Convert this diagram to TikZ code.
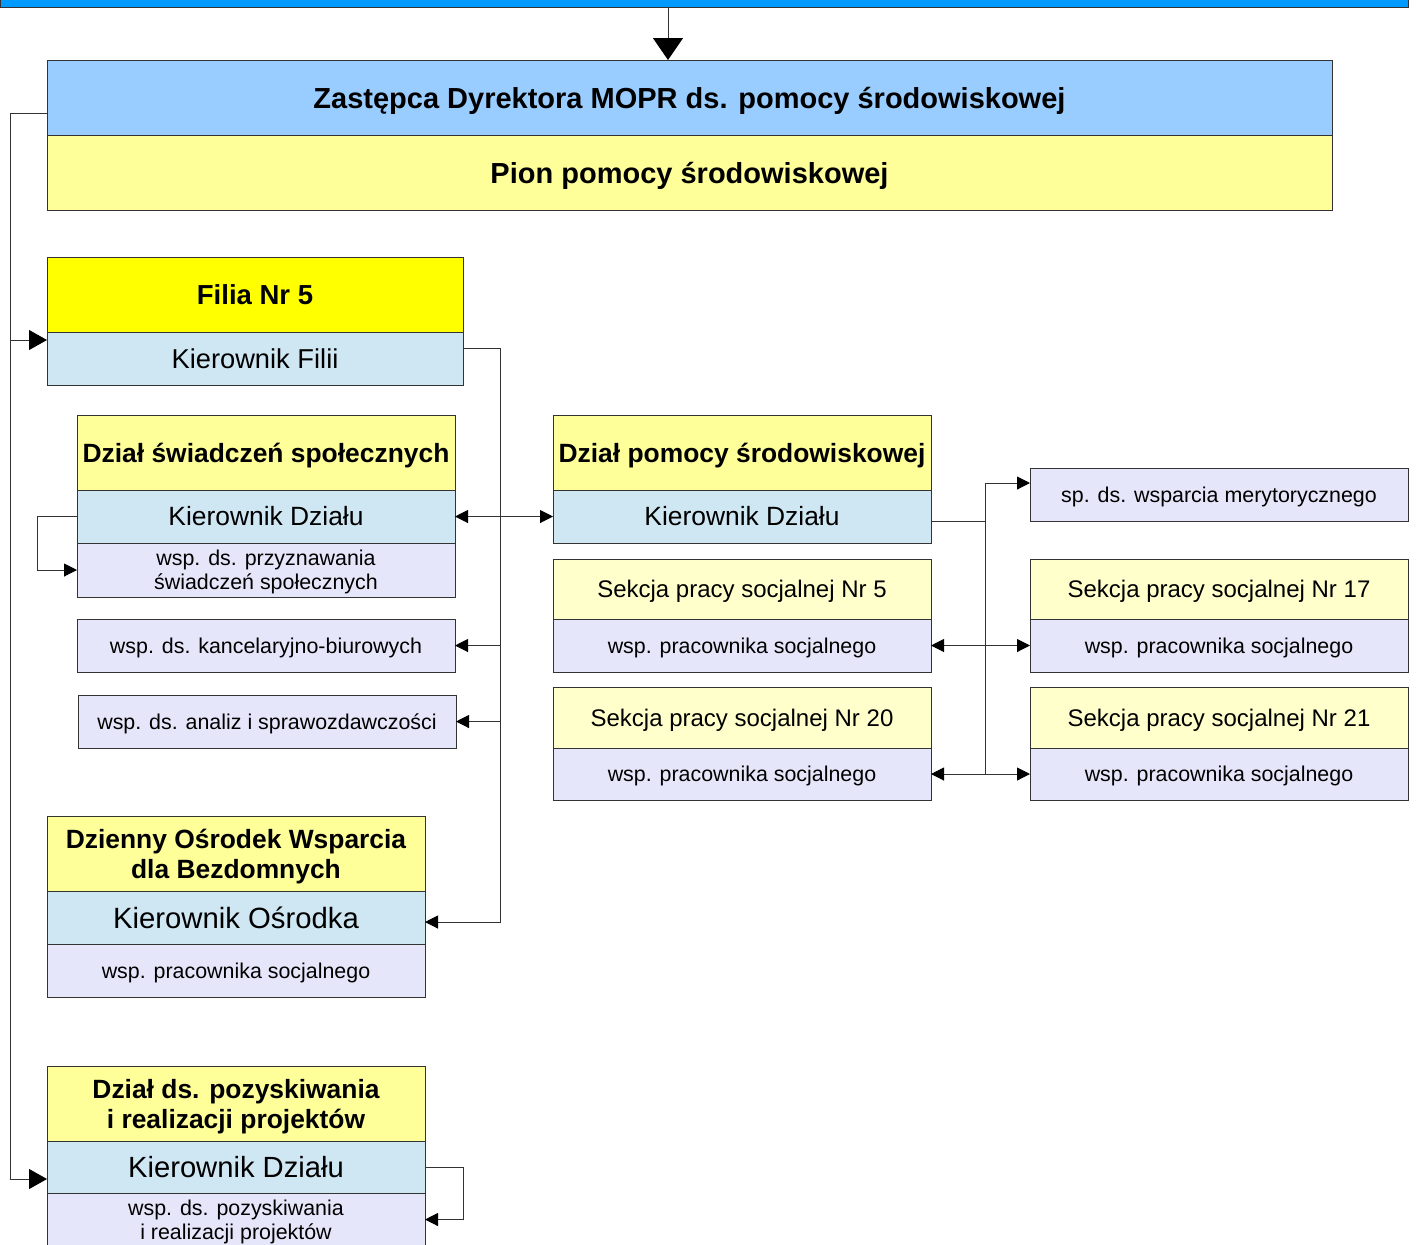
\documentclass[tikz,border=0pt]{standalone}
\usepackage{fontspec}
\setmainfont{Liberation Sans}
\usetikzlibrary{arrows.meta,positioning}
\definecolor{barblue}{HTML}{0099FF}
\definecolor{topblue}{HTML}{99CCFF}
\definecolor{headyel}{HTML}{FFFF99}
\definecolor{filyel}{HTML}{FFFF00}
\definecolor{sekyel}{HTML}{FFFFCC}
\definecolor{kierblue}{HTML}{CFE6F3}
\definecolor{wsplav}{HTML}{E6E6FA}
\begin{document}
\begin{tikzpicture}[x=0.5pt,y=-0.5pt,node distance=0pt,
  box/.style={draw=black!80,line width=0.5pt,inner sep=0pt,outer sep=0pt,align=center,minimum width=189pt},
  head/.style={box,fill=headyel,minimum height=37.5pt,text depth=0pt,font=\bfseries\fontsize{13.2}{15}\selectfont},
  kier/.style={box,fill=kierblue,minimum height=26.5pt,font=\fontsize{13.2}{15}\selectfont},
  wsp/.style={box,fill=wsplav,minimum height=26.5pt,text depth=0pt,font=\fontsize{10.7}{12}\selectfont},
  sek/.style={box,fill=sekyel,minimum height=30pt,text depth=0pt,font=\fontsize{12}{14}\selectfont},
  con/.style={draw=black!80,line width=0.5pt},
  arr/.style={con,-{Triangle[length=6.5pt,width=6.5pt,color=black]}},
  darr/.style={con,{Triangle[length=6.5pt,width=6.5pt,color=black]}-{Triangle[length=6.5pt,width=6.5pt,color=black]}},
  bigarr/.style={con,-{Triangle[length=9pt,width=10pt,color=black]}}]
\useasboundingbox (0,0) rectangle (1418,1244);

\node[box,fill=barblue,minimum width=704pt,minimum height=20pt,anchor=south west] (bar) at (0,7) {};
\node[head,fill=topblue,minimum width=642.5pt,anchor=north west,font=\bfseries\fontsize{14.5}{17}\selectfont] (zast) at (47,60) {Zastępca Dyrektora MOPR ds. pomocy środowiskowej};
\node[head,minimum width=642.5pt,font=\bfseries\fontsize{14.5}{17}\selectfont,below=of zast] (pion) {Pion pomocy środowiskowej};

\node[head,fill=filyel,minimum width=208pt,anchor=north west,font=\bfseries\fontsize{13.75}{16}\selectfont] (fil) at (47,257) {Filia Nr 5};
\node[kier,minimum width=208pt,font=\fontsize{13.65}{16}\selectfont,below=of fil] (filK) {Kierownik Filii};

\node[head,anchor=north west] (ds) at (77,415) {Dział świadczeń społecznych};
\node[kier,below=of ds] (dsK) {Kierownik Działu};
\node[wsp,minimum height=27pt,below=of dsK] (dsW) {wsp. ds. przyznawania\\świadczeń społecznych};
\node[wsp,anchor=north west] (kanc) at (77,619) {wsp. ds. kancelaryjno-biurowych};
\node[wsp,anchor=north west] (anal) at (78,695) {wsp. ds. analiz i sprawozdawczości};

\node[head,anchor=north west] (dp) at (553,415) {Dział pomocy środowiskowej};
\node[kier,below=of dp] (dpK) {Kierownik Działu};
\node[sek,anchor=north west] (s5) at (553,559) {Sekcja pracy socjalnej Nr 5};
\node[wsp,below=of s5] (s5W) {wsp. pracownika socjalnego};
\node[sek,minimum height=30.5pt,anchor=north west] (s20) at (553,687) {Sekcja pracy socjalnej Nr 20};
\node[wsp,minimum height=26pt,below=of s20] (s20W) {wsp. pracownika socjalnego};

\node[wsp,anchor=north west] (sp) at (1030,468) {sp. ds. wsparcia merytorycznego};
\node[sek,anchor=north west] (s17) at (1030,559) {Sekcja pracy socjalnej Nr 17};
\node[wsp,below=of s17] (s17W) {wsp. pracownika socjalnego};
\node[sek,minimum height=30.5pt,anchor=north west] (s21) at (1030,687) {Sekcja pracy socjalnej Nr 21};
\node[wsp,minimum height=26pt,below=of s21] (s21W) {wsp. pracownika socjalnego};

\node[head,anchor=north west] (dz) at (47,816) {Dzienny Ośrodek Wsparcia\\dla Bezdomnych};
\node[kier,font=\fontsize{14.65}{17}\selectfont,below=of dz] (dzK) {Kierownik Ośrodka};
\node[wsp,below=of dzK] (dzW) {wsp. pracownika socjalnego};

\node[head,anchor=north west] (poz) at (47,1066) {Dział ds. pozyskiwania\\i realizacji projektów};
\node[kier,minimum height=26pt,font=\fontsize{14.6}{17}\selectfont,below=of poz] (pozK) {Kierownik Działu};
\node[wsp,minimum height=26.5pt,below=of pozK] (pozW) {wsp. ds. pozyskiwania\\i realizacji projektów};

\coordinate (topin) at ([xshift=-10.75pt]zast.north);
\coordinate (zout) at ([yshift=-8pt]zast.west);
\coordinate (spL) at (500,0);
\coordinate (spR) at (985,0);
\coordinate (spin) at ([yshift=5.75pt]sp.west);

\draw[con,-{Triangle[length=11pt,width=15pt,color=black]}] (topin |- bar.south) -- (topin);
\draw[bigarr] (zout) -- ++(-37,0) |- ([yshift=-6pt]pozK.west);
\draw[bigarr] (zout) ++(-37,0) |- ([yshift=9.25pt]filK.west);

\draw[arr] ([yshift=5.25pt]filK.east) -- ++(37,0) |- ([yshift=-2.25pt]dzK.east);
\draw[arr] (spL |- kanc.east) -- (kanc.east);
\draw[arr] (spL |- anal.east) -- (anal.east);
\draw[arr] (dsK.west) -- ++(-40,0) |- (dsW.west);
\draw[darr] (dsK.east) -- (dpK.west);

\draw[arr] ([yshift=-2.25pt]dpK.east) -| (spR |- spin) -- (spin);
\draw[con] (spR |- dpK.east) -- (spR |- s21W.west);
\draw[darr] (s5W.east) -- (s17W.west);
\draw[darr] (s20W.east) -- (s21W.west);

\draw[arr] (pozK.east) -- ++(38,0) |- (pozW.east);
\end{tikzpicture}
\end{document}
